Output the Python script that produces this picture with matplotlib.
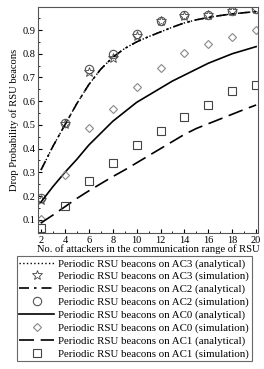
import matplotlib
matplotlib.use("Agg")
import matplotlib.pyplot as plt
from matplotlib.ticker import MultipleLocator

plt.rcParams['font.family'] = ['Liberation Serif', 'DejaVu Serif']

# number of attackers (analytical curves read at every integer)
attackers_curve = list(range(2, 21))
# number of attackers (simulation points)
attackers = [2, 4, 6, 8, 10, 12, 14, 16, 18, 20]

# analytical curves
ac3_analytical = [0.31, 0.41, 0.50, 0.59, 0.67, 0.735, 0.785, 0.822, 0.85, 0.872,
                  0.892, 0.912, 0.93, 0.943, 0.953, 0.961, 0.968, 0.973, 0.978]
ac2_analytical = [0.31, 0.41, 0.50, 0.59, 0.67, 0.735, 0.785, 0.822, 0.85, 0.872,
                  0.892, 0.912, 0.93, 0.943, 0.953, 0.961, 0.968, 0.973, 0.978]
ac0_analytical = [0.175, 0.24, 0.30, 0.355, 0.415, 0.465, 0.515, 0.555, 0.595, 0.625,
                  0.655, 0.685, 0.71, 0.735, 0.76, 0.78, 0.80, 0.815, 0.83]
ac1_analytical = [0.087, 0.12, 0.155, 0.19, 0.222, 0.252, 0.282, 0.31, 0.34, 0.37,
                  0.40, 0.43, 0.46, 0.485, 0.505, 0.525, 0.545, 0.565, 0.584]

# simulation points
ac3_sim = [0.185, 0.505, 0.725, 0.78, 0.875, 0.94, 0.96, 0.965, 0.98, 0.99]
ac2_sim = [0.19, 0.51, 0.735, 0.80, 0.885, 0.94, 0.962, 0.965, 0.98, 0.99]
ac0_sim = [0.105, 0.29, 0.485, 0.565, 0.66, 0.74, 0.805, 0.84, 0.87, 0.90]
ac1_sim = [0.065, 0.16, 0.265, 0.34, 0.415, 0.475, 0.535, 0.585, 0.645, 0.67]

fig = plt.figure(figsize=(2.64, 3.69), dpi=100)
ax = fig.add_axes([0.144, 0.369, 0.833, 0.612])

ax.plot(attackers_curve, ac3_analytical, color='black', linestyle=':', lw=1.0,
        label='Periodic RSU beacons on AC3 (analytical)')
ax.plot(attackers, ac3_sim, linestyle='none', marker='*', ms=7, mfc='none',
        mec='#444444', mew=0.6, label='Periodic RSU beacons on AC3 (simulation)')
ax.plot(attackers_curve, ac2_analytical, color='black', linestyle=(0, (6, 3, 1.5, 3)), lw=1.2,
        label='Periodic RSU beacons on AC2 (analytical)')
ax.plot(attackers, ac2_sim, linestyle='none', marker='o', ms=6, mfc='none',
        mec='#555555', mew=0.8, label='Periodic RSU beacons on AC2 (simulation)')
ax.plot(attackers_curve, ac0_analytical, color='black', linestyle='-', lw=1.2,
        label='Periodic RSU beacons on AC0 (analytical)')
ax.plot(attackers, ac0_sim, linestyle='none', marker='D', ms=4.5, mfc='none',
        mec='#888888', mew=0.8, label='Periodic RSU beacons on AC0 (simulation)')
ax.plot(attackers_curve, ac1_analytical, color='black', linestyle=(0, (9, 4)), lw=1.2,
        label='Periodic RSU beacons on AC1 (analytical)')
ax.plot(attackers, ac1_sim, linestyle='none', marker='s', ms=6, mfc='none',
        mec='#444444', mew=0.8, label='Periodic RSU beacons on AC1 (simulation)')

ax.set_xlim(1.75, 20.15)
ax.set_ylim(0.045, 0.997)
ax.xaxis.set_major_locator(MultipleLocator(2))
ax.xaxis.set_minor_locator(MultipleLocator(1))
ax.yaxis.set_major_locator(MultipleLocator(0.1))
ax.yaxis.set_minor_locator(MultipleLocator(0.05))
ax.tick_params(which='both', direction='in', labelsize=7.5, pad=2)
ax.tick_params(which='major', length=3)
ax.tick_params(which='minor', length=1.5)
for s in ax.spines.values():
    s.set_color('#555555')
    s.set_linewidth(0.8)

ax.set_xlabel('No. of attackers in the communication range of RSU', fontsize=7.6, labelpad=0)
ax.set_ylabel('Drop Probability of RSU beacons', fontsize=7.6, labelpad=2)

leg = fig.legend(loc='upper center', bbox_to_anchor=(0.508, 0.306), fontsize=7.8,
                 frameon=True, fancybox=False, edgecolor='#444444',
                 handlelength=3.2, handletextpad=0.4, labelspacing=0.28,
                 borderpad=0.25, borderaxespad=0)
leg.get_frame().set_linewidth(0.8)

fig.savefig('out.png', dpi=100)
